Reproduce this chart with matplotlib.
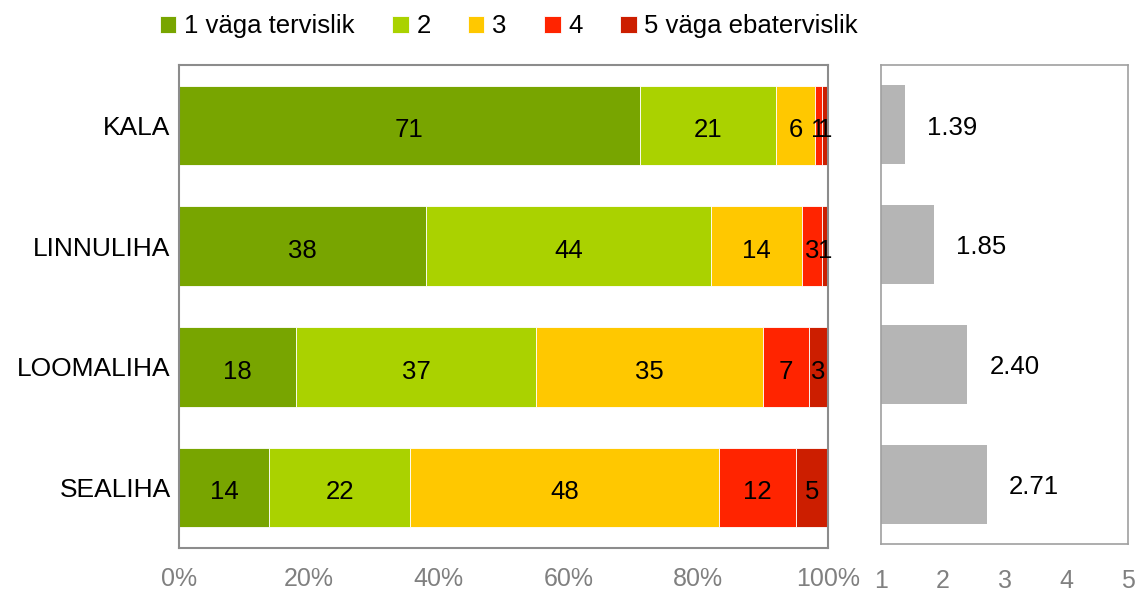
import matplotlib.pyplot as plt
import numpy as np

plt.rcParams['font.family'] = ['Liberation Sans', 'DejaVu Sans']

categories = ["KALA", "LINNULIHA", "LOOMALIHA", "SEALIHA"]
levels = ["1 väga tervislik", "2", "3", "4", "5 väga ebatervislik"]
shares = [
    [71, 21, 6, 1, 1],
    [38, 44, 14, 3, 1],
    [18, 37, 35, 7, 3],
    [14, 22, 48, 12, 5],
]
averages = [1.39, 1.85, 2.40, 2.71]
colors = ["#78A500", "#AAD200", "#FFC800", "#FF2400", "#CC1E00"]

frame_grey = "#8C8C8C"
tick_grey = "#808080"

fig = plt.figure(figsize=(11.38, 5.95), dpi=100)
ax = fig.add_axes([0.1573, 0.079, 0.5703, 0.8118])
ax2 = fig.add_axes([0.7742, 0.0857, 0.217, 0.805])

data = np.array(shares, dtype=float)
norm = data / data.sum(axis=1, keepdims=True)
y = np.arange(len(categories))
left = np.zeros(len(categories))
for j, lab in enumerate(levels):
    bars = ax.barh(y, norm[:, j], left=left, height=0.66, color=colors[j],
                   edgecolor="white", linewidth=0.6, label=lab)
    for i, b in enumerate(bars):
        ax.text(left[i] + norm[i, j] / 2, y[i] + 0.04, str(shares[i][j]),
                ha="center", va="center", fontsize=18.5, color="black")
    left += norm[:, j]

ax.set_xlim(0, 1)
ax.set_ylim(3.5, -0.5)
ax.set_yticks(y)
ax.set_yticklabels(categories, fontsize=19)
ax.set_xticks(np.linspace(0, 1, 6))
ax.set_xticklabels(["0%", "20%", "40%", "60%", "80%", "100%"])
ax.tick_params(axis="x", length=0, pad=14, labelsize=18, labelcolor=tick_grey)
ax.tick_params(axis="y", length=0, pad=6)
for s in ax.spines.values():
    s.set_color(frame_grey)
    s.set_linewidth(1.5)

bars2 = ax2.barh(y, np.array(averages) - 1, left=1, height=0.66, color="#B5B5B5")
for i, v in enumerate(averages):
    ax2.annotate(f"{v:.2f}", (v, y[i]), xytext=(16, -2), textcoords="offset points",
                 ha="left", va="center", fontsize=18.5)
ax2.set_xlim(1, 5)
ax2.set_ylim(3.5, -0.5)
ax2.set_yticks([])
ax2.set_xticks([1, 2, 3, 4, 5])
ax2.tick_params(axis="x", length=0, pad=18, labelsize=18, labelcolor=tick_grey)
for s in ax2.spines.values():
    s.set_color("#A0A0A0")
    s.set_linewidth(1.2)

h, l = ax.get_legend_handles_labels()
fig.legend(h, l, loc="upper left", bbox_to_anchor=(0.12, 1.015), ncol=5,
           frameon=False, fontsize=18.5, handlelength=0.65, handleheight=0.65,
           handletextpad=0.3, columnspacing=1.45)

fig.savefig("out.png", dpi=100)
